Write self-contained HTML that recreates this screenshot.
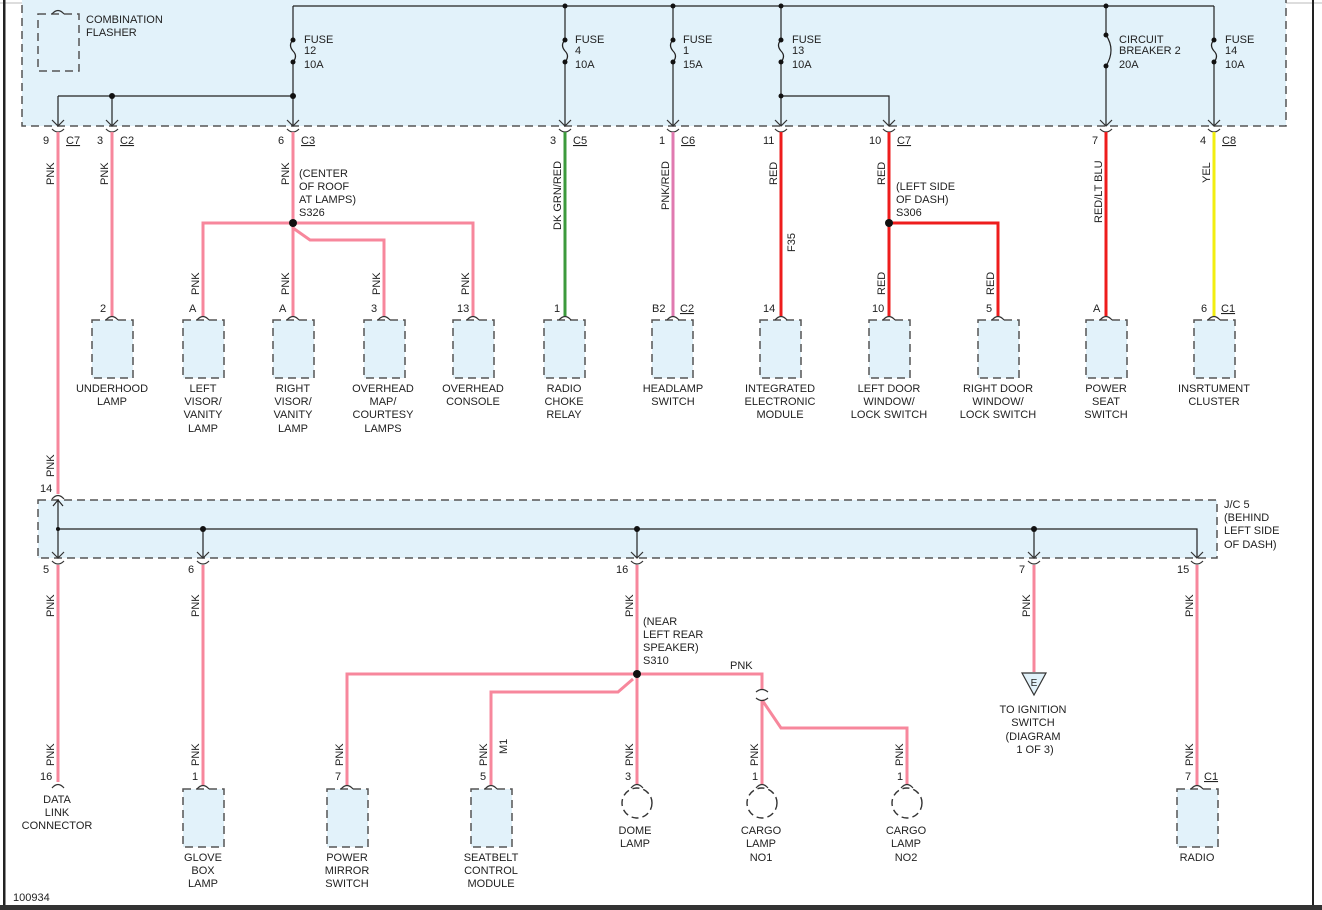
<!DOCTYPE html>
<html><head><meta charset="utf-8"><style>
html,body{margin:0;padding:0;background:#fff}
svg{display:block}
text{font-family:"Liberation Sans",sans-serif;font-size:11px;fill:#222}
.m{text-anchor:middle}
.dash{fill:#e2f2fa;stroke:#555;stroke-width:1.5;stroke-dasharray:8,5}
.k{stroke:#222;stroke-width:1.2;fill:none}
.p{stroke:#f7879c;stroke-width:3;fill:none}
.r{stroke:#ee1c1c;stroke-width:3;fill:none}
.cup{stroke:#333;stroke-width:1.2;fill:none}
</style></head><body>
<svg width="1322" height="910" viewBox="0 0 1322 910" xmlns="http://www.w3.org/2000/svg">
<line x1="0" y1="3" x2="1322" y2="3" stroke="#bbb" stroke-width="1"/>
<rect x="3" y="0" width="2.5" height="905" fill="#222"/>
<rect x="1312" y="0" width="2" height="905" fill="#222"/>
<rect x="0" y="905" width="1322" height="5" fill="#333"/>

<!-- top box -->
<rect class="dash" x="22" y="-2" width="1264" height="128"/>
<rect class="dash" x="38" y="14" width="41" height="57"/>
<path class="cup" d="M52 14 q6 -7 12 0"/>
<text x="86" y="23">COMBINATION</text><text x="86" y="36">FLASHER</text>

<g class="k">
<polyline points="293,6 1214,6"/>
<line x1="58" y1="96" x2="293" y2="96"/>
<line x1="58" y1="96" x2="58" y2="126"/><line x1="112" y1="96" x2="112" y2="126"/>
<line x1="293" y1="6" x2="293" y2="40"/><path d="M293 40 q-5 5 0 11 q5 5 0 11"/><line x1="293" y1="62" x2="293" y2="126"/>
<line x1="565" y1="6" x2="565" y2="40"/><path d="M565 40 q-5 5 0 11 q5 5 0 11"/><line x1="565" y1="62" x2="565" y2="126"/>
<line x1="673" y1="6" x2="673" y2="40"/><path d="M673 40 q-5 5 0 11 q5 5 0 11"/><line x1="673" y1="62" x2="673" y2="126"/>
<line x1="781" y1="6" x2="781" y2="40"/><path d="M781 40 q-5 5 0 11 q5 5 0 11"/><line x1="781" y1="62" x2="781" y2="126"/>
<polyline points="781,96 889,96 889,126"/>
<line x1="1106" y1="6" x2="1106" y2="35"/><path d="M1106 35 q10 15 0 31"/><line x1="1106" y1="66" x2="1106" y2="126"/>
<line x1="1214" y1="6" x2="1214" y2="40"/><path d="M1214 40 q-5 5 0 11 q5 5 0 11"/><line x1="1214" y1="62" x2="1214" y2="126"/>
</g>
<g fill="#111">
<circle cx="112" cy="96" r="3"/><circle cx="293" cy="96" r="3"/>
<circle cx="293" cy="40" r="2.5"/><circle cx="293" cy="62" r="2.5"/>
<circle cx="565" cy="6" r="2.5"/><circle cx="565" cy="40" r="2.5"/><circle cx="565" cy="62" r="2.5"/>
<circle cx="673" cy="6" r="2.5"/><circle cx="673" cy="40" r="2.5"/><circle cx="673" cy="62" r="2.5"/>
<circle cx="781" cy="6" r="2.5"/><circle cx="781" cy="40" r="2.5"/><circle cx="781" cy="62" r="2.5"/><circle cx="781" cy="96" r="2.5"/>
<circle cx="1106" cy="6" r="2.5"/><circle cx="1106" cy="35" r="2.5"/><circle cx="1106" cy="66" r="2.5"/>
<circle cx="1214" cy="40" r="2.5"/><circle cx="1214" cy="62" r="2.5"/>
</g>
<text x="304" y="43">FUSE</text><text x="304" y="54">12</text><text x="304" y="68">10A</text>
<text x="575" y="43">FUSE</text><text x="575" y="54">4</text><text x="575" y="68">10A</text>
<text x="683" y="43">FUSE</text><text x="683" y="54">1</text><text x="683" y="68">15A</text>
<text x="792" y="43">FUSE</text><text x="792" y="54">13</text><text x="792" y="68">10A</text>
<text x="1119" y="43">CIRCUIT</text><text x="1119" y="54">BREAKER 2</text><text x="1119" y="68">20A</text>
<text x="1225" y="43">FUSE</text><text x="1225" y="54">14</text><text x="1225" y="68">10A</text>

<!-- connector arrows and cups top -->
<g class="cup">
<path d="M52 120 l6 6 l6 -6 M52 129 q6 6 12 0"/>
<path d="M106 120 l6 6 l6 -6 M106 129 q6 6 12 0"/>
<path d="M287 120 l6 6 l6 -6 M287 129 q6 6 12 0"/>
<path d="M559 120 l6 6 l6 -6 M559 129 q6 6 12 0"/>
<path d="M667 120 l6 6 l6 -6 M667 129 q6 6 12 0"/>
<path d="M775 120 l6 6 l6 -6 M775 129 q6 6 12 0"/>
<path d="M883 120 l6 6 l6 -6 M883 129 q6 6 12 0"/>
<path d="M1100 120 l6 6 l6 -6 M1100 129 q6 6 12 0"/>
<path d="M1208 120 l6 6 l6 -6 M1208 129 q6 6 12 0"/>
</g>
<text x="43" y="144">9</text><text x="66" y="144" text-decoration="underline">C7</text>
<text x="97" y="144">3</text><text x="120" y="144" text-decoration="underline">C2</text>
<text x="278" y="144">6</text><text x="301" y="144" text-decoration="underline">C3</text>
<text x="550" y="144">3</text><text x="573" y="144" text-decoration="underline">C5</text>
<text x="659" y="144">1</text><text x="681" y="144" text-decoration="underline">C6</text>
<text x="763" y="144">11</text>
<text x="869" y="144">10</text><text x="897" y="144" text-decoration="underline">C7</text>
<text x="1092" y="144">7</text>
<text x="1200" y="144">4</text><text x="1222" y="144" text-decoration="underline">C8</text>

<!-- top wires -->
<line class="p" x1="58" y1="132" x2="58" y2="494"/>
<line class="p" x1="112" y1="132" x2="112" y2="316"/>
<line class="p" x1="293" y1="132" x2="293" y2="316"/>
<polyline class="p" points="203,316 203,223 473,223 473,316"/>
<polyline class="p" points="293,228 310,240 384,240 384,316"/>
<line x1="565" y1="132" x2="565" y2="316" stroke="#3c9a3c" stroke-width="3"/>
<line x1="673" y1="132" x2="673" y2="316" stroke="#e07ab0" stroke-width="3"/>
<line class="r" x1="781" y1="132" x2="781" y2="316"/>
<line class="r" x1="889" y1="132" x2="889" y2="316"/>
<polyline class="r" points="889,223 998,223 998,316"/>
<line class="r" x1="1106" y1="132" x2="1106" y2="316"/>
<line x1="1214" y1="132" x2="1214" y2="316" stroke="#f2ee10" stroke-width="3"/>
<circle cx="293" cy="223" r="4" fill="#111"/><circle cx="889" cy="223" r="4" fill="#111"/>

<g transform="rotate(-90)">
<text x="-185" y="54">PNK</text><text x="-185" y="108">PNK</text><text x="-185" y="289">PNK</text>
<text x="-230" y="561">DK GRN/RED</text><text x="-210" y="669">PNK/RED</text>
<text x="-185" y="777">RED</text><text x="-185" y="885">RED</text>
<text x="-223" y="1102">RED/LT BLU</text><text x="-183" y="1210">YEL</text>
<text x="-295" y="199">PNK</text><text x="-295" y="289">PNK</text><text x="-295" y="380">PNK</text><text x="-295" y="469">PNK</text>
<text x="-295" y="885">RED</text><text x="-295" y="994">RED</text>
<text x="-252" y="795">F35</text>
<text x="-477" y="54">PNK</text>
</g>
<text x="299" y="177">(CENTER</text><text x="299" y="190">OF ROOF</text><text x="299" y="203">AT LAMPS)</text><text x="299" y="216">S326</text>
<text x="896" y="190">(LEFT SIDE</text><text x="896" y="203">OF DASH)</text><text x="896" y="216">S306</text>

<!-- top components -->
<g class="dash">
<rect x="92" y="320" width="41" height="58"/><rect x="183" y="320" width="41" height="58"/>
<rect x="273" y="320" width="41" height="58"/><rect x="364" y="320" width="41" height="58"/>
<rect x="453" y="320" width="41" height="58"/><rect x="544" y="320" width="41" height="58"/>
<rect x="652" y="320" width="41" height="58"/><rect x="760" y="320" width="41" height="58"/>
<rect x="869" y="320" width="41" height="58"/><rect x="978" y="320" width="41" height="58"/>
<rect x="1086" y="320" width="41" height="58"/><rect x="1194" y="320" width="41" height="58"/>
</g>
<g class="cup">
<path d="M106 320 q6 -7 12 0"/><path d="M197 320 q6 -7 12 0"/><path d="M287 320 q6 -7 12 0"/>
<path d="M378 320 q6 -7 12 0"/><path d="M467 320 q6 -7 12 0"/><path d="M559 320 q6 -7 12 0"/>
<path d="M667 320 q6 -7 12 0"/><path d="M775 320 q6 -7 12 0"/><path d="M883 320 q6 -7 12 0"/>
<path d="M992 320 q6 -7 12 0"/><path d="M1100 320 q6 -7 12 0"/><path d="M1208 320 q6 -7 12 0"/>
</g>
<text x="100" y="312">2</text><text x="189" y="312">A</text><text x="279" y="312">A</text><text x="371" y="312">3</text>
<text x="457" y="312">13</text><text x="554" y="312">1</text><text x="652" y="312">B2</text><text x="680" y="312" text-decoration="underline">C2</text>
<text x="763" y="312">14</text><text x="872" y="312">10</text><text x="986" y="312">5</text><text x="1093" y="312">A</text>
<text x="1201" y="312">6</text><text x="1221" y="312" text-decoration="underline">C1</text>

<g class="m">
<text x="112" y="392">UNDERHOOD</text><text x="112" y="405">LAMP</text>
<text x="203" y="392">LEFT</text><text x="203" y="405">VISOR/</text><text x="203" y="418">VANITY</text><text x="203" y="432">LAMP</text>
<text x="293" y="392">RIGHT</text><text x="293" y="405">VISOR/</text><text x="293" y="418">VANITY</text><text x="293" y="432">LAMP</text>
<text x="383" y="392">OVERHEAD</text><text x="383" y="405">MAP/</text><text x="383" y="418">COURTESY</text><text x="383" y="432">LAMPS</text>
<text x="473" y="392">OVERHEAD</text><text x="473" y="405">CONSOLE</text>
<text x="564" y="392">RADIO</text><text x="564" y="405">CHOKE</text><text x="564" y="418">RELAY</text>
<text x="673" y="392">HEADLAMP</text><text x="673" y="405">SWITCH</text>
<text x="780" y="392">INTEGRATED</text><text x="780" y="405">ELECTRONIC</text><text x="780" y="418">MODULE</text>
<text x="889" y="392">LEFT DOOR</text><text x="889" y="405">WINDOW/</text><text x="889" y="418">LOCK SWITCH</text>
<text x="998" y="392">RIGHT DOOR</text><text x="998" y="405">WINDOW/</text><text x="998" y="418">LOCK SWITCH</text>
<text x="1106" y="392">POWER</text><text x="1106" y="405">SEAT</text><text x="1106" y="418">SWITCH</text>
<text x="1214" y="392">INSRTUMENT</text><text x="1214" y="405">CLUSTER</text>
</g>

<!-- J/C 5 -->
<rect class="dash" x="38" y="500" width="1179" height="58"/>
<text x="1224" y="508">J/C 5</text><text x="1224" y="521">(BEHIND</text><text x="1224" y="534">LEFT SIDE</text><text x="1224" y="548">OF DASH)</text>
<text x="40" y="492">14</text>
<path class="cup" d="M52 499 q6 -7 12 0"/>
<g class="k">
<line x1="58" y1="500" x2="58" y2="558"/><path d="M53 506 l5 -6 l5 6"/>
<polyline points="58,529 1197,529 1197,557"/>
<line x1="203" y1="529" x2="203" y2="557"/><line x1="637" y1="529" x2="637" y2="557"/><line x1="1034" y1="529" x2="1034" y2="557"/>
</g>
<g class="cup">
<path d="M52 552 l6 6 l6 -6 M52 561 q6 6 12 0"/>
<path d="M197 552 l6 6 l6 -6 M197 561 q6 6 12 0"/>
<path d="M631 552 l6 6 l6 -6 M631 561 q6 6 12 0"/>
<path d="M1028 552 l6 6 l6 -6 M1028 561 q6 6 12 0"/>
<path d="M1191 552 l6 6 l6 -6 M1191 561 q6 6 12 0"/>
</g>
<g fill="#111"><circle cx="58" cy="529" r="2"/><circle cx="203" cy="529" r="3"/><circle cx="637" cy="529" r="3"/><circle cx="1034" cy="529" r="3"/></g>
<text x="43" y="573">5</text><text x="188" y="573">6</text><text x="616" y="573">16</text><text x="1019" y="573">7</text><text x="1177" y="573">15</text>

<!-- lower wires -->
<line class="p" x1="58" y1="565" x2="58" y2="782"/>
<line class="p" x1="203" y1="565" x2="203" y2="785"/>
<line class="p" x1="637" y1="565" x2="637" y2="785"/>
<polyline class="p" points="637,674 347,674 347,785"/>
<polyline class="p" points="633,679 618,692 491,692 491,785"/>
<polyline class="p" points="637,674 762,674 762,690"/>
<line class="p" x1="762" y1="700" x2="762" y2="785"/>
<polyline class="p" points="762,700 781,728 907,728 907,785"/>
<line class="p" x1="1034" y1="565" x2="1034" y2="672"/>
<line class="p" x1="1197" y1="565" x2="1197" y2="785"/>
<circle cx="637" cy="674" r="4" fill="#111"/>
<path class="cup" d="M756 692 q6 -5 12 0 M756 698 q6 5 12 0"/>
<path d="M1022 673 L1046 673 L1034 695 Z" fill="#e2f2fa" stroke="#333" stroke-width="1.2"/>
<text x="1034" y="686" class="m" style="font-size:10px">E</text>

<g transform="rotate(-90)">
<text x="-617" y="54">PNK</text><text x="-617" y="199">PNK</text><text x="-617" y="633">PNK</text>
<text x="-617" y="1030">PNK</text><text x="-617" y="1193">PNK</text>
<text x="-766" y="54">PNK</text><text x="-766" y="199">PNK</text><text x="-766" y="343">PNK</text>
<text x="-766" y="487">PNK</text><text x="-754" y="507">M1</text><text x="-766" y="633">PNK</text>
<text x="-766" y="758">PNK</text><text x="-766" y="903">PNK</text><text x="-766" y="1193">PNK</text>
</g>
<text x="643" y="625">(NEAR</text><text x="643" y="638">LEFT REAR</text><text x="643" y="651">SPEAKER)</text><text x="643" y="664">S310</text>
<text x="730" y="669">PNK</text>

<text x="40" y="780">16</text><text x="192" y="780">1</text><text x="335" y="780">7</text><text x="480" y="780">5</text>
<text x="625" y="780">3</text><text x="752" y="780">1</text><text x="897" y="780">1</text>
<text x="1185" y="780">7</text><text x="1204" y="780" text-decoration="underline">C1</text>

<g class="dash">
<rect x="183" y="789" width="41" height="58"/><rect x="327" y="789" width="41" height="58"/>
<rect x="471" y="789" width="41" height="58"/><rect x="1177" y="789" width="41" height="58"/>
</g>
<g fill="none" stroke="#333" stroke-width="1.4" stroke-dasharray="7,4">
<circle cx="637" cy="803" r="15"/><circle cx="762" cy="803" r="15"/><circle cx="907" cy="803" r="15"/>
</g>
<g class="cup">
<path d="M52 788 q6 -7 12 0"/><path d="M197 789 q6 -7 12 0"/><path d="M341 789 q6 -7 12 0"/>
<path d="M485 789 q6 -7 12 0"/><path d="M631 788 q6 -7 12 0"/><path d="M756 788 q6 -7 12 0"/>
<path d="M901 788 q6 -7 12 0"/><path d="M1191 789 q6 -7 12 0"/>
</g>

<g class="m">
<text x="57" y="803">DATA</text><text x="57" y="816">LINK</text><text x="57" y="829">CONNECTOR</text>
<text x="203" y="861">GLOVE</text><text x="203" y="874">BOX</text><text x="203" y="887">LAMP</text>
<text x="347" y="861">POWER</text><text x="347" y="874">MIRROR</text><text x="347" y="887">SWITCH</text>
<text x="491" y="861">SEATBELT</text><text x="491" y="874">CONTROL</text><text x="491" y="887">MODULE</text>
<text x="635" y="834">DOME</text><text x="635" y="847">LAMP</text>
<text x="761" y="834">CARGO</text><text x="761" y="847">LAMP</text><text x="761" y="861">NO1</text>
<text x="906" y="834">CARGO</text><text x="906" y="847">LAMP</text><text x="906" y="861">NO2</text>
<text x="1033" y="713">TO IGNITION</text><text x="1033" y="726">SWITCH</text><text x="1033" y="740">(DIAGRAM</text><text x="1035" y="753">1 OF 3)</text>
<text x="1197" y="861">RADIO</text>
</g>
<text x="13" y="901">100934</text>
</svg>
</body></html>
